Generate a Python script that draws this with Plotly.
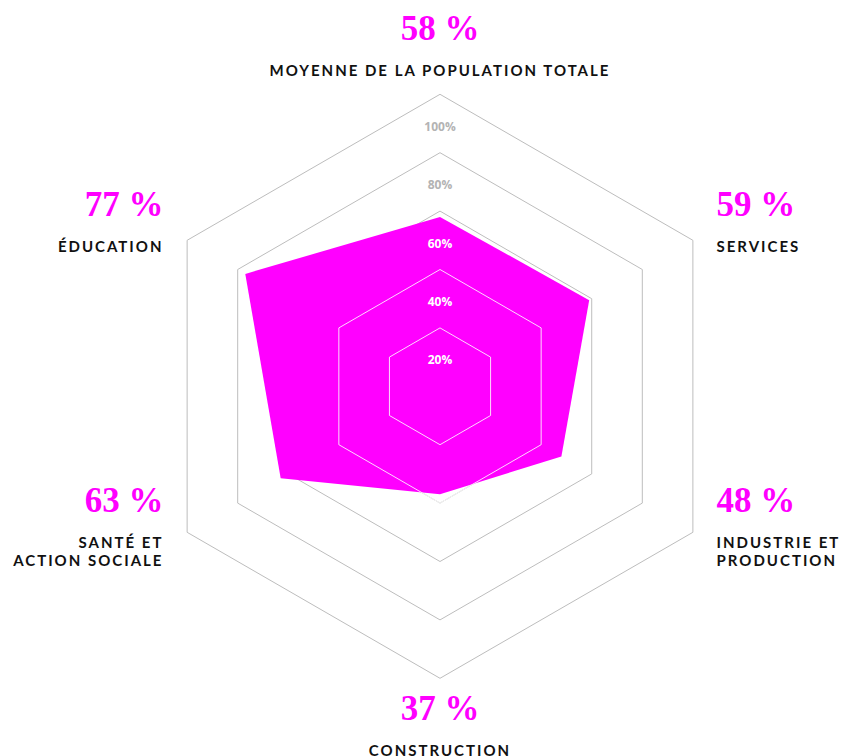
import plotly.graph_objects as go

# data
categories = ["MOYENNE DE LA POPULATION TOTALE", "SERVICES", "INDUSTRIE ET<br>PRODUCTION",
              "CONSTRUCTION", "SANTÉ ET<br>ACTION SOCIALE", "ÉDUCATION"]
values = [58, 59, 48, 37, 63, 77]
ring_values = [100, 80, 60, 40, 20]
ring_labels = ["100%", "80%", "60%", "40%", "20%"]

MAGENTA = "#ff00ff"
GRID = "#bdbdbd"
SPACED = "<span style='font-size:15px;letter-spacing:2px'><b>%s</b></span>"


def tick_label(name, val, lead=0, trail=0):
    big = ("<span style='font-family:Liberation Serif;font-size:35px;font-weight:bold;"
           "color:%s'>%d %%</span>" % (MAGENTA, val))
    small = "<br>".join(SPACED % part for part in name.split("<br>"))
    # blank lines only nudge the block up/down around its vertex
    return "<br>" * lead + big + "<br><br>" + small + "<br>" * trail


# top label lives on the first polar axis, the others on the second one
# (they need a different distance from the hexagon)
top_text = [tick_label(categories[0], values[0])] + [""] * 5
side_text = ["",
             tick_label(categories[1], values[1], lead=3),
             tick_label(categories[2], values[2], trail=7),
             tick_label(categories[3], values[3]),
             tick_label(categories[4], values[4], trail=7),
             tick_label(categories[5], values[5], lead=3)]

fig = go.Figure()

# filled radar shape
fig.add_trace(go.Scatterpolar(
    r=values + values[:1],
    theta=categories + categories[:1],
    mode="lines",
    fill="toself",
    fillcolor=MAGENTA,
    line=dict(width=0, color=MAGENTA),
    hoverinfo="skip",
    showlegend=False,
    subplot="polar",
))

# ring labels, a bit inside each ring on the top spoke
fig.add_trace(go.Scatterpolar(
    r=[v - 11.5 for v in ring_values],
    theta=[categories[0]] * len(ring_values),
    mode="text",
    text=ring_labels,
    textfont=dict(family="Open Sans", size=12, weight="bold",
                  color=["#b3b3b3", "#b3b3b3", "white", "white", "white"]),
    hoverinfo="skip",
    showlegend=False,
    subplot="polar2",
))

domain = dict(x=[0.17536, 0.86730], y=[0.10278, 0.87526])
tickfont = dict(family="Lato", size=14, color="#111111")

fig.update_layout(
    width=844, height=756,
    margin=dict(l=0, r=0, t=0, b=0),
    paper_bgcolor="white",
    polar=dict(
        domain=domain,
        gridshape="linear",
        bgcolor="white",
        radialaxis=dict(range=[0, 100], tickvals=ring_values, showticklabels=False,
                        ticks="", showline=False, gridcolor=GRID, gridwidth=1,
                        layer="below traces"),
        angularaxis=dict(categoryarray=categories, type="category", rotation=90,
                         direction="clockwise", tickvals=categories, ticktext=top_text,
                         showgrid=False, showline=True, linecolor=GRID, linewidth=1,
                         ticks="outside", ticklen=12, tickcolor="rgba(0,0,0,0)",
                         tickfont=tickfont, layer="below traces"),
    ),
    polar2=dict(
        domain=domain,
        gridshape="linear",
        bgcolor="rgba(0,0,0,0)",
        radialaxis=dict(range=[0, 100], tickvals=[20, 40], showticklabels=False,
                        ticks="", showline=False, gridcolor="rgba(255,255,255,0.85)",
                        gridwidth=1),
        angularaxis=dict(categoryarray=categories, type="category", rotation=90,
                         direction="clockwise", tickvals=categories, ticktext=side_text,
                         showgrid=False, showline=False,
                         ticks="outside", ticklen=24, tickcolor="rgba(0,0,0,0)",
                         tickfont=tickfont),
    ),
)

# drop the default 8px body margin so the 844x756 figure fills the window
fig.write_html("out.html", config={"displayModeBar": False},
               post_script="document.body.style.margin='0';document.body.style.overflow='hidden';")
